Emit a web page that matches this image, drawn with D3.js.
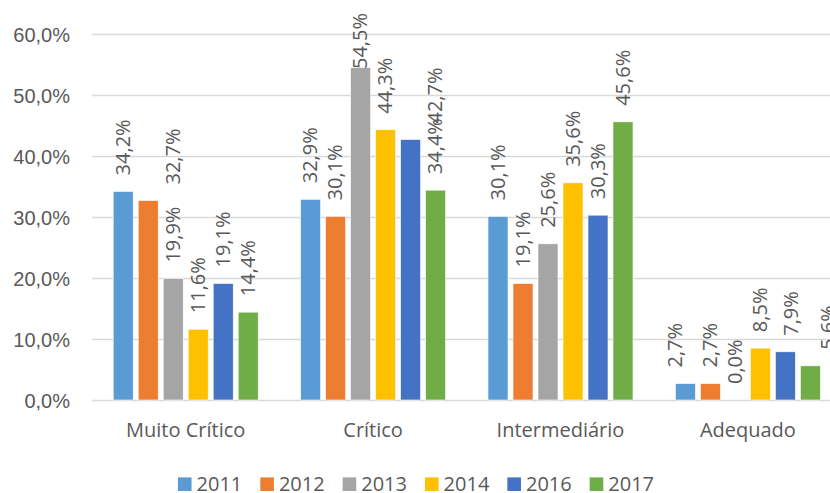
<!DOCTYPE html>
<html>
<head>
<meta charset="utf-8">
<script src="https://cdn.jsdelivr.net/npm/d3@7"></script>
<style>
  body { margin: 0; background: #fff; }
  svg { display: block; font-family: "Open Sans", sans-serif; }
</style>
</head>
<body>
<div id="chart"></div>
<script>
const categories = ["Muito Crítico", "Crítico", "Intermediário", "Adequado"]
const years = ["2011", "2012", "2013", "2014", "2016", "2017"]
const values2011 = [34.2, 32.9, 30.1, 2.7]
const values2012 = [32.7, 30.1, 19.1, 2.7]
const values2013 = [19.9, 54.5, 25.6, 0.0]
const values2014 = [11.6, 44.3, 35.6, 8.5]
const values2016 = [19.1, 42.7, 30.3, 7.9]
const values2017 = [14.4, 34.4, 45.6, 5.6]
const yTicks = [0, 10, 20, 30, 40, 50, 60]

const seriesValues = [values2011, values2012, values2013, values2014, values2016, values2017]
const colors = ["#5B9BD5", "#ED7D31", "#A5A5A5", "#FFC000", "#4472C4", "#70AD47"]

// excel pushes some labels sideways to dodge each other (in bar steps)
const labelNudge = {
  "Muito Crítico|2012": 1,
  "Crítico|2016": 1,
  "Adequado|2011": -0.4,
  "Adequado|2016": 0.25,
  "Adequado|2017": 0.7
}

const width = 830, height = 493
const plotLeft = 92, plotTop = 34, plotBottom = 400
const bandStep = 187.4
const textColor = "#595959"

const rows = categories.map((c, i) => {
  const row = { category: c }
  years.forEach((y, j) => { row[y] = seriesValues[j][i] })
  return row
})

const svg = d3.select("#chart")
  .append("svg")
  .attr("width", width)
  .attr("height", height)

const x0 = d3.scaleBand()
  .domain(categories)
  .range([plotLeft, plotLeft + bandStep * categories.length])
  .padding(0)

const groupW = 145
const x1 = d3.scaleBand()
  .domain(years)
  .range([x0.bandwidth() / 2 - groupW / 2, x0.bandwidth() / 2 + groupW / 2])
  .paddingInner(0.2)
  .paddingOuter(0)

const y = d3.scaleLinear()
  .domain([0, 60])
  .range([plotBottom, plotTop])

// gridlines + y labels
const yAxis = svg.append("g")
  .attr("transform", `translate(${plotLeft},0)`)
  .call(d3.axisLeft(y)
    .tickValues(yTicks)
    .tickSize(-(width - plotLeft))
    .tickPadding(22)
    .tickFormat(d => d.toFixed(1).replace(".", ",") + "%"))
yAxis.select(".domain").remove()
yAxis.selectAll(".tick line")
  .attr("stroke", "#D9D9D9")
  .attr("stroke-width", 1.3)
yAxis.selectAll(".tick text")
  .attr("fill", textColor)
  .attr("font-size", 20)
  .attr("dy", "0.35em")

// category labels
svg.append("g")
  .selectAll("text")
  .data(categories)
  .join("text")
  .attr("x", d => x0(d) + x0.bandwidth() / 2)
  .attr("y", 437)
  .attr("text-anchor", "middle")
  .attr("fill", textColor)
  .attr("font-size", 20)
  .text(d => d)

const groups = svg.append("g")
  .selectAll("g")
  .data(rows)
  .join("g")
  .attr("transform", d => `translate(${x0(d.category)},0)`)

const cells = d => years.map((yr, j) => ({ category: d.category, year: yr, value: d[yr], color: colors[j] }))

groups.selectAll("rect")
  .data(cells)
  .join("rect")
  .attr("x", d => x1(d.year))
  .attr("width", x1.bandwidth())
  .attr("y", d => y(d.value))
  .attr("height", d => y(0) - y(d.value))
  .attr("fill", d => d.color)
  .attr("stroke", "#fff")
  .attr("stroke-width", 0.6)

const fmt = v => v.toFixed(1).replace(".", ",") + "%"

groups.selectAll("text.lbl")
  .data(cells)
  .join("text")
  .attr("class", "lbl")
  .attr("fill", textColor)
  .attr("font-size", 20)
  .attr("text-anchor", "start")
  .attr("dy", "0.33em")
  .text(d => fmt(d.value))
  .each(function (d) {
    const len = this.getComputedTextLength()
    const nudge = (labelNudge[d.category + "|" + d.year] || 0) * x1.step()
    const cx = x1(d.year) + x1.bandwidth() / 2 + nudge
    const start = Math.max(y(d.value) - 16, 13 + len)
    d3.select(this).attr("transform", `translate(${cx},${start}) rotate(-90)`)
  })

// legend
const legend = svg.append("g")
const items = legend.selectAll("g")
  .data(years)
  .join("g")
items.append("rect")
  .attr("width", 13.6)
  .attr("height", 13.6)
  .attr("y", 477.4)
  .attr("fill", (d, i) => colors[i])
items.append("text")
  .attr("x", 18.6)
  .attr("y", 491)
  .attr("fill", textColor)
  .attr("font-size", 20)
  .text(d => d)

let cursor = 0
const offsets = []
items.each(function () {
  offsets.push(cursor)
  const tw = d3.select(this).select("text").node().getComputedTextLength()
  cursor += 18.6 + tw + 18
})
const total = cursor - 18
const startX = 416 - total / 2
items.attr("transform", (d, i) => `translate(${startX + offsets[i]},0)`)
</script>
</body>
</html>
